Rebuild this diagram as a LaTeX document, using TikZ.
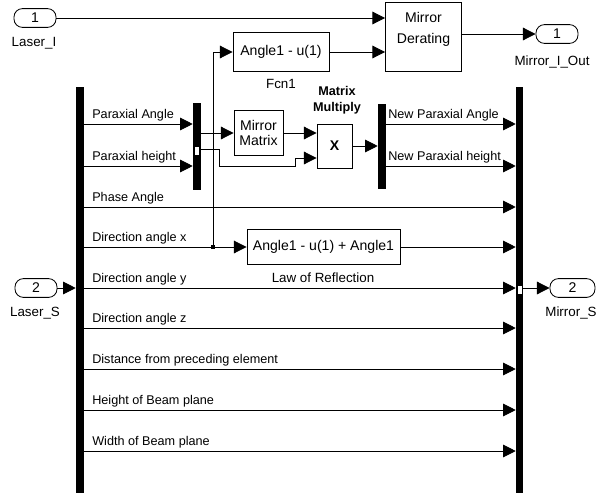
\documentclass[tikz,border=0pt]{standalone}
\usepackage{fontspec}
\setmainfont{Liberation Sans}
\usetikzlibrary{arrows.meta}

\tikzset{
  blk/.style={draw, line width=0.6pt, inner sep=1pt, align=center, font=\fontsize{10}{12}\selectfont},
  port/.style={draw, line width=0.6pt, rounded corners=6pt, minimum width=1.05cm, minimum height=0.47cm, inner sep=0pt, font=\fontsize{10}{12}\selectfont},
  bar/.style={fill=black, inner sep=0pt, minimum width=0.2cm},
  lbl/.style={inner sep=0pt, font=\fontsize{9}{10}\selectfont},
  plbl/.style={inner sep=0pt, font=\fontsize{9.5}{11}\selectfont},
  sig/.style={line width=0.6pt, -{Triangle[length=9pt,width=9pt]}},
  portmark/.style={draw, fill=white, line width=0.4pt, inner sep=0pt, minimum width=0.13cm, minimum height=0.22cm},
}

\begin{document}
\begin{tikzpicture}[x=0.025cm, y=-0.025cm]
\useasboundingbox (0,0) rectangle (597,493);
% ports
\node[port] (in1) at (35,18) {1};
\node[plbl] (in1l) at (34,43) {Laser\_I};
\node[port] (in2) at (36,288) {2};
\node[plbl] (in2l) at (35,313) {Laser\_S};
\node[port] (out1) at (557,34) {1};
\node[plbl] (out1l) at (552,62) {Mirror\_I\_Out};
\node[port, minimum width=1.125cm] (out2) at (572.5,288) {2};
\node[plbl] (out2l) at (571,313) {Mirror\_S};
% bars
\node[bar, minimum height=10.15cm] (busL) at (80,290) {};
\node[bar, minimum height=2.175cm] (dmx) at (197,146.5) {};
\node[bar, minimum height=2.125cm] (mx) at (382,146.5) {};
\node[bar, minimum width=0.175cm, minimum height=10.15cm] (busR) at (519.5,290) {};
% blocks
\node[blk, minimum width=1.9cm, minimum height=1.725cm] (derate) at (423.5,36.5) {};
\node[blk, draw=none] (dertxt) at (423.5,29) {Mirror\\[3pt]Derating};
\node[blk, minimum width=2.4cm, minimum height=0.975cm] (fcn) at (281,52) {Angle1 - u(1)};
\node[plbl] (fcnl) at (281,84) {Fcn1};
\node[blk, minimum width=1.225cm, minimum height=1.125cm, font=\fontsize{10}{11}\selectfont] (mtx) at (258.5,133) {Mirror\\Matrix};
\node[blk, minimum width=0.875cm, minimum height=1.1cm, font=\bfseries\fontsize{10}{12}\selectfont] (mult) at (334.5,146) {X};
\node[lbl, align=center, font=\bfseries\fontsize{9}{11}\selectfont] (multl) at (337,100) {Matrix\\Multiply};
\node[blk, minimum width=3.825cm, minimum height=0.875cm] (law) at (323.5,247) {Angle1 - u(1) + Angle1};
\node[plbl] (lawl) at (323,278) {Law of Reflection};
% top row
\draw[sig] (in1.east) -- (derate.west |- in1.east);
\draw[sig] (fcn.east) -- (derate.west |- fcn.east);
\draw[sig] (derate.east |- out1.west) -- (out1.west);
% bus lines into demux
\foreach \y/\i/\t in {124/1/Paraxial Angle, 166/2/Paraxial height}{
  \coordinate (s\i) at (busL.east |- 0,\y);
  \draw[sig] (s\i) -- (dmx.west |- s\i);
  \node[lbl, anchor=base west] (t\i) at (92,\y-6) {\t};
}
% bus lines into right bar
\foreach \y/\i/\t in {207/3/Phase Angle, 288/5/Direction angle y, 328/6/Direction angle z,
    369/7/Distance from preceding element, 410/8/Height of Beam plane, 451/9/Width of Beam plane}{
  \coordinate (s\i) at (busL.east |- 0,\y);
  \draw[sig] (s\i) -- (busR.west |- s\i);
  \node[lbl, anchor=base west] (t\i) at (92,\y-6) {\t};
}
% direction angle x
\coordinate (s4) at (busL.east |- law.west);
\node[lbl, anchor=base west] (t4) at (92,241) {Direction angle x};
\draw[sig] (s4) -- (law.west);
\node[fill=black, inner sep=0pt, minimum size=0.08cm] (jx) at (213,247) {};
\draw[sig] (jx.center) |- (fcn.west);
\draw[sig] (law.east) -- (busR.west |- law.east);
% matrix part
\draw[sig] (dmx.east |- mtx.west) -- (mtx.west);
\draw[sig] (mtx.east) -- (mult.west |- mtx.east);
\coordinate (d2) at (dmx.east |- 0,149);
\draw[sig] (d2) -- ++(18,0) |- (295,166) |- (mult.west |- 0,158);
\draw[sig] (mult.east) -- (mx.west |- mult.east);
\foreach \y/\i/\t in {124/1/New Paraxial Angle, 166/2/New Paraxial height}{
  \coordinate (n\i) at (mx.east |- 0,\y);
  \draw[sig] (n\i) -- (busR.west |- n\i);
  \node[lbl, anchor=base west] (nt\i) at (388,\y-6) {\t};
}
% outputs
\draw[sig] (in2.east) -- (busL.west |- in2.east);
\draw[sig] (busR.east |- out2.west) -- (out2.west);
\node[portmark] (pm1) at (197,151) {};
\node[portmark] (pm2) at (519.5,290) {};
\end{tikzpicture}
\end{document}
